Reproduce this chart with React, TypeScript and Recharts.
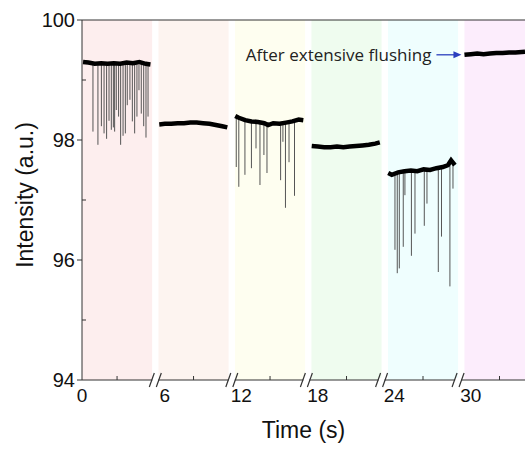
import {
  ComposedChart,
  Line,
  ReferenceArea,
  ReferenceDot,
  ReferenceLine,
  XAxis,
  YAxis,
} from "recharts";

// broken time axis: every window is drawn 5.5 units wide, windows start every 6 units
const segmentStarts = [0, 6, 12, 18, 24, 30];
const segmentLength = 5.5;
const segmentColors = ["#fdeeee", "#fdf4f0", "#fefef0", "#effcef", "#effefe", "#fcedfc"];

const xTickPositions = [0, 6.5, 12.5, 18.5, 24.5, 30.5];
const xTickLabels = ["0", "6", "12", "18", "24", "30"];
const yTicks = [94, 96, 98, 100];
const yMinorTicks = [95, 97, 99];
const axisBreaks = [5.75, 11.75, 17.6, 23.5, 29.5];

// [time inside the window, intensity]
const traceA = [
  [0.08, 99.3], [0.5, 99.29], [1.0, 99.27], [1.5, 99.28], [2.0, 99.27], [2.5, 99.28],
  [3.0, 99.27], [3.5, 99.29], [4.0, 99.28], [4.5, 99.3], [5.0, 99.27], [5.37, 99.26],
];
const traceB = [
  [0.06, 98.26], [0.5, 98.27], [1.0, 98.27], [1.5, 98.28], [2.0, 98.28], [2.5, 98.29],
  [3.0, 98.29], [3.5, 98.28], [4.0, 98.27], [4.5, 98.25], [5.0, 98.23], [5.4, 98.21],
];
const traceC = [
  [0.02, 98.4], [0.3, 98.37], [0.8, 98.33], [1.3, 98.31], [1.8, 98.3], [2.3, 98.28],
  [2.6, 98.25], [3.0, 98.28], [3.5, 98.27], [4.0, 98.29], [4.5, 98.31], [5.0, 98.34], [5.36, 98.33],
];
const traceD = [
  [0.02, 97.9], [0.5, 97.89], [1.0, 97.88], [1.5, 97.88], [2.0, 97.89], [2.5, 97.88],
  [3.0, 97.89], [3.5, 97.9], [4.0, 97.91], [4.5, 97.92], [5.0, 97.94], [5.36, 97.96],
];
const traceE = [
  [0.02, 97.45], [0.3, 97.42], [0.8, 97.46], [1.3, 97.48], [1.8, 97.49], [2.3, 97.48],
  [2.8, 97.51], [3.3, 97.5], [3.8, 97.53], [4.3, 97.55], [4.7, 97.58], [4.95, 97.66], [5.25, 97.58],
];
const traceF = [
  [0.0, 99.42], [0.5, 99.43], [1.0, 99.44], [1.5, 99.43], [2.0, 99.44],
  [2.5, 99.45], [3.0, 99.45], [3.5, 99.46], [4.0, 99.46], [4.75, 99.47],
];

// [time inside the window, top, bottom of the dip]
const spikesA = [
  [0.86, 99.25, 98.14], [1.25, 99.25, 97.92], [1.52, 99.25, 98.23], [1.73, 99.25, 98.11],
  [1.93, 99.25, 98.02], [2.12, 99.25, 98.32], [2.3, 99.25, 98.17], [2.46, 99.25, 98.21],
  [2.56, 99.25, 98.14], [2.69, 99.25, 98.5], [2.87, 99.25, 98.39], [3.03, 99.25, 97.92],
  [3.22, 99.25, 98.07], [3.4, 99.25, 98.11], [3.55, 99.25, 98.58], [3.76, 99.25, 98.67],
  [3.95, 99.25, 98.31], [4.13, 99.25, 98.11], [4.31, 99.25, 98.39], [4.47, 99.25, 98.83],
  [4.65, 99.25, 98.44], [4.84, 99.25, 98.23], [5.02, 99.25, 98.04], [5.18, 99.25, 98.39],
];
const spikesC = [
  [0.1, 98.37, 97.55], [0.3, 98.35, 97.22], [0.78, 98.31, 97.42], [1.29, 98.29, 97.53],
  [1.65, 98.28, 97.86], [1.96, 98.28, 97.25], [2.27, 98.26, 97.75], [2.51, 98.24, 97.45],
  [3.58, 98.25, 97.33], [3.76, 98.26, 97.97], [3.96, 98.27, 96.87], [4.24, 98.28, 97.63],
  [4.67, 98.3, 97.07],
];
const spikesE = [
  [0.55, 97.41, 96.17], [0.73, 97.43, 95.78], [0.89, 97.44, 95.86], [1.2, 97.45, 96.22],
  [1.33, 97.46, 97.08], [1.84, 97.47, 96.07], [2.12, 97.46, 96.44], [2.85, 97.49, 96.57],
  [3.06, 97.48, 96.94], [3.95, 97.51, 95.8], [4.2, 97.52, 96.39], [4.86, 97.6, 95.56],
  [5.1, 97.6, 97.19],
];

const traces = [traceA, traceB, traceC, traceD, traceE, traceF];
const spikes = [spikesA, [], spikesC, [], spikesE, []];

const traceData = traces.map((trace, k) =>
  trace.map(([t, v]) => ({ x: segmentStarts[k] + t, v })),
);
const spikeData = spikes.map((list, k) =>
  list.flatMap(([t, top, low]) => {
    const x = segmentStarts[k] + t;
    return [
      { x, v: top },
      { x, v: low },
      { x, v: null },
    ];
  }),
);

const AXIS = "#333";
const FONT = "'Liberation Sans', Arial, sans-serif";

function BreakMark(props: any) {
  const { cx, cy } = props;
  return (
    <g>
      <rect x={cx - 3} y={cy - 2} width={6} height={4} fill="#fff" />
      <line x1={cx - 6} y1={cy + 7} x2={cx - 1} y2={cy - 7} stroke={AXIS} strokeWidth={1.2} />
      <line x1={cx + 1} y1={cy + 7} x2={cx + 6} y2={cy - 7} stroke={AXIS} strokeWidth={1.2} />
    </g>
  );
}

function MinorTickX(props: any) {
  const { cx, cy } = props;
  return <line x1={cx} y1={cy} x2={cx} y2={cy - 4} stroke={AXIS} strokeWidth={1} />;
}

function MinorTickY(props: any) {
  const { cx, cy } = props;
  return <line x1={cx} y1={cy} x2={cx + 4} y2={cy} stroke={AXIS} strokeWidth={1} />;
}

function FlushNote(props: any) {
  const { cx, cy } = props;
  return (
    <g>
      <text
        x={cx - 33}
        y={cy + 6}
        textAnchor="end"
        fontFamily="'Open Sans', sans-serif"
        fontSize={17}
        fill="#222"
      >
        After extensive flushing
      </text>
      <line x1={cx - 28} y1={cy} x2={cx - 10} y2={cy} stroke="#2b3fbf" strokeWidth={1.3} />
      <polygon
        points={`${cx - 11},${cy - 3.5} ${cx - 3},${cy} ${cx - 11},${cy + 3.5}`}
        fill="#2b3fbf"
      />
    </g>
  );
}

export default function App() {
  return (
    <div style={{ position: "absolute", left: 0, top: 0, background: "#fff" }}>
      <ComposedChart
        width={525}
        height={450}
        margin={{ top: 20, right: 0, bottom: 0, left: 0 }}
      >
        <XAxis
          dataKey="x"
          type="number"
          domain={[0, 34.75]}
          allowDataOverflow
          ticks={xTickPositions}
          interval={0}
          tickFormatter={(v) => xTickLabels[xTickPositions.indexOf(v)] ?? ""}
          tickLine={false}
          tickSize={0}
          tickMargin={9}
          height={70}
          axisLine={{ stroke: AXIS }}
          tick={{ fill: "#111", fontFamily: FONT, fontSize: 19 }}
          label={{
            value: "Time (s)",
            position: "insideBottom",
            offset: 12,
            style: { fill: "#111", fontFamily: FONT, fontSize: 23 },
          }}
        />
        <YAxis
          type="number"
          domain={[94, 100]}
          ticks={yTicks}
          interval={0}
          width={82}
          tickSize={5}
          tickMargin={2}
          tickLine={{ stroke: AXIS }}
          axisLine={{ stroke: AXIS }}
          tick={{ fill: "#111", fontFamily: FONT, fontSize: 20 }}
          label={{
            value: "Intensity (a.u.)",
            angle: -90,
            position: "center",
            dx: -16,
            dy: -5,
            style: { fill: "#111", fontFamily: FONT, fontSize: 23 },
          }}
        />
        {segmentStarts.map((s, k) => (
          <ReferenceArea
            key={`band-${k}`}
            x1={s}
            x2={s + segmentLength}
            y1={94}
            y2={100}
            fill={segmentColors[k]}
            fillOpacity={1}
            stroke="none"
            ifOverflow="hidden"
          />
        ))}
        <ReferenceLine y={100} stroke={AXIS} strokeWidth={1} ifOverflow="visible" />
        {spikeData.map((d, k) =>
          d.length ? (
            <Line
              key={`spike-${k}`}
              data={d}
              dataKey="v"
              type="linear"
              stroke="#555"
              strokeWidth={1}
              dot={false}
              connectNulls={false}
              isAnimationActive={false}
            />
          ) : null,
        )}
        {traceData.map((d, k) => (
          <Line
            key={`trace-${k}`}
            data={d}
            dataKey="v"
            type="linear"
            stroke="#000"
            strokeWidth={4.5}
            dot={false}
            isAnimationActive={false}
          />
        ))}
        {segmentStarts.map((s, k) => (
          <ReferenceDot
            key={`minor-x-${k}`}
            x={s + segmentLength / 2}
            y={94}
            shape={MinorTickX}
            ifOverflow="visible"
          />
        ))}
        {yMinorTicks.map((v) => (
          <ReferenceDot key={`minor-y-${v}`} x={0} y={v} shape={MinorTickY} ifOverflow="visible" />
        ))}
        {axisBreaks.map((b) => (
          <ReferenceDot key={`break-${b}`} x={b} y={94} shape={BreakMark} ifOverflow="visible" />
        ))}
        <ReferenceDot x={segmentStarts[5]} y={99.42} shape={FlushNote} ifOverflow="visible" />
      </ComposedChart>
    </div>
  );
}
